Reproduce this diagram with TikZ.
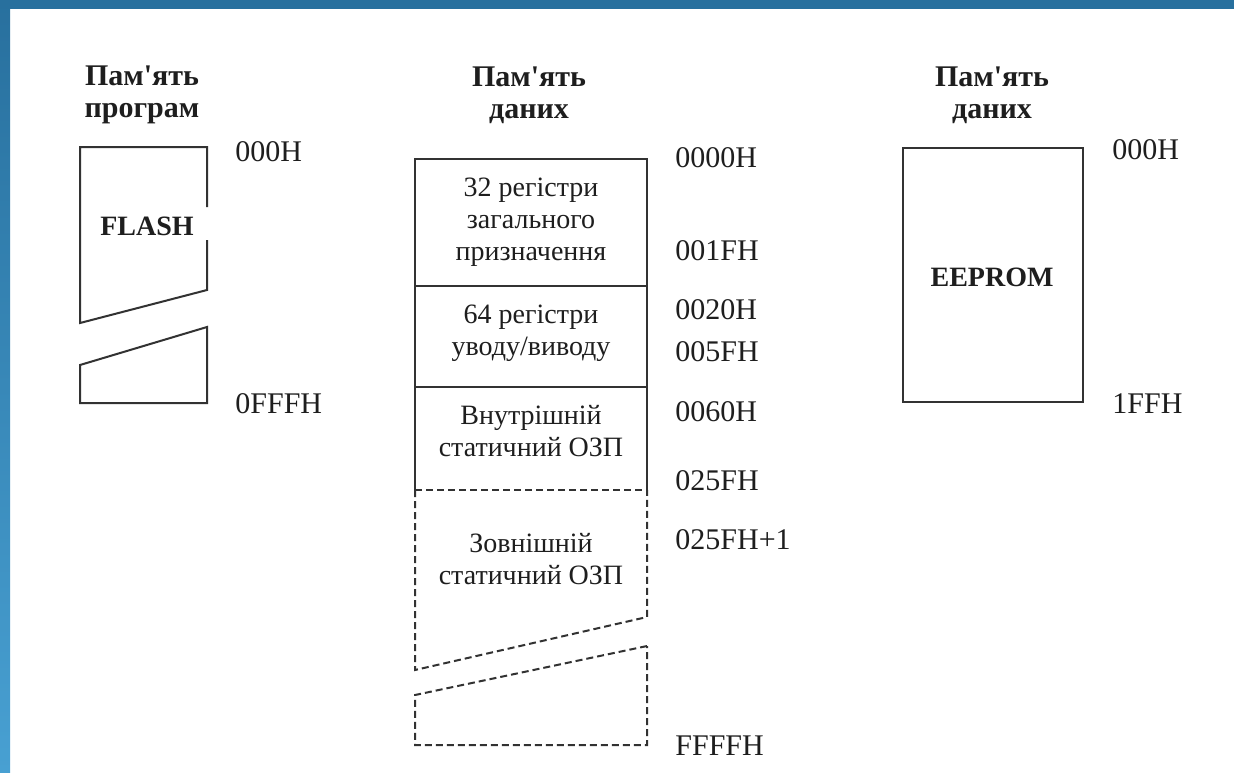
\documentclass[tikz,border=0pt]{standalone}
\usepackage{fontspec}
\setmainfont{Liberation Serif}
\usepackage{tikz}
\usetikzlibrary{positioning}
\definecolor{frameDark}{RGB}{40, 112, 158}
\definecolor{frameLight}{RGB}{72, 160, 210}
\definecolor{memLine}{RGB}{50, 50, 50}
\definecolor{memText}{RGB}{30, 30, 30}

\begin{document}
\begin{tikzpicture}[x=0.5pt, y=-0.5pt,
        memline/.style={draw=memLine, line width=1pt},
        memdash/.style={memline, dash pattern=on 3.5pt off 2pt},
        heading/.style={font=\fontsize{15}{16}\selectfont\bfseries, align=center, text=memText, inner sep=0pt},
        cell/.style={font=\fontsize{14}{16}\selectfont, align=center, text=memText, inner sep=0pt},
        chip/.style={font=\fontsize{14}{16}\selectfont\bfseries, text=memText, inner sep=0pt},
        addr/.style={font=\fontsize{15}{16}\selectfont, anchor=west, text=memText, inner sep=0pt}]
    \useasboundingbox (0,0) rectangle (1234,772);

    % Slide frame
    \fill[white] (0,0) rectangle (1234,772);
    \shade[top color=frameDark, bottom color=frameLight] (0,0) rectangle (10,772);
    \fill[frameDark] (0,0) rectangle (1234,9);

    % Headings
    \node[heading] (progHead) at (142,95) {Пам\textquotesingle ять\\програм};
    \node[heading] (dataHead) at (529,95) {Пам\textquotesingle ять\\даних};
    \node[heading] (eepHead) at (992,95) {Пам\textquotesingle ять\\даних};

    % Program memory (FLASH)
    \draw[memline] (207,207) -- (207,147) -- (80,147) -- (80,323) -- (207,290) -- (207,240);
    \draw[memline] (207,327) -- (80,365) -- (80,403) -- (207,403) -- cycle;
    \node[chip] (flash) at (147,226) {FLASH};

    % Data memory (SRAM)
    \draw[memline] (415,490) -- (415,159) -- (647,159) -- (647,490);
    \draw[memline] (415,286) -- (647,286);
    \draw[memline] (415,387) -- (647,387);
    \draw[memdash] (415,490) -- (647,490);
    \draw[memdash] (415,490) -- (415,670) -- (647,617) -- (647,490);
    \draw[memdash] (647,646) -- (415,695) -- (415,745) -- (647,745) -- cycle;

    \node[cell] (gpr) at (531,222) {32 регістри\\загального\\призначення};
    \node[cell] (io) at (531,333) {64 регістри\\уводу/виводу};
    \node[cell] (intRam) at (531,431) {Внутрішній\\статичний ОЗП};
    \node[cell] (extRam) at (531,559) {Зовнішній\\статичний ОЗП};

    % Data memory (EEPROM)
    \draw[memline] (903,148) rectangle (1083,402);
    \node[chip] (eeprom) at (992,277) {EEPROM};

    % Addresses
    \foreach \name/\x/\y/\txt in {
        progTop/235/152/000H,
        progEnd/235/404/0FFFH,
        ramA/675/158/0000H,
        ramB/675/251/001FH,
        ramC/675/310/0020H,
        ramD/675/352/005FH,
        ramE/675/412/0060H,
        ramF/675/481/025FH,
        ramG/675/540/025FH+1,
        ramH/675/746/FFFFH,
        eepTop/1112/150/000H,
        eepEnd/1112/404/1FFH
    } {
        \node[addr] (\name) at (\x,\y) {\txt};
    }
\end{tikzpicture}
\end{document}
